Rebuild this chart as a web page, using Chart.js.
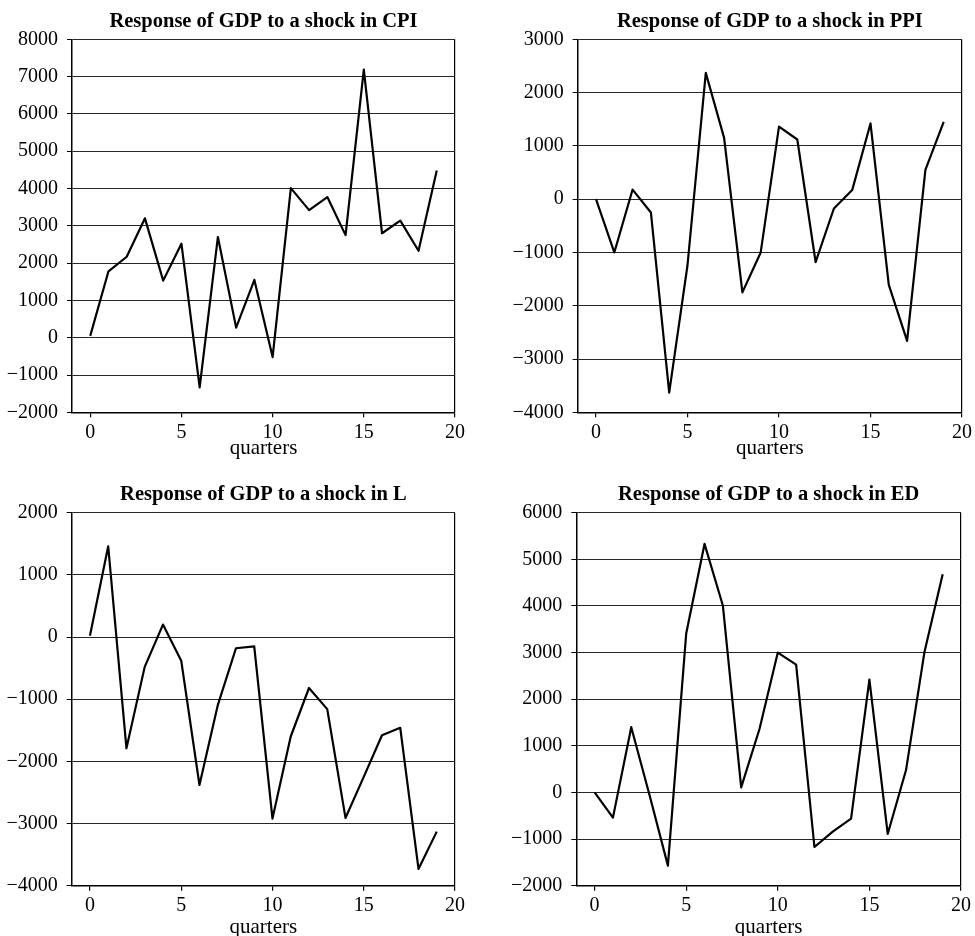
<!DOCTYPE html>
<html>
<head>
<meta charset="utf-8">
<script src="https://cdn.jsdelivr.net/npm/chart.js@4.4.0/dist/chart.umd.min.js"></script>
<style>
  body { margin: 0; background: #fff; overflow: hidden; }
  canvas { position: absolute; }
</style>
</head>
<body>
<canvas id="cpiChart" width="487" height="468" style="left:0;top:0"></canvas>
<canvas id="ppiChart" width="488" height="468" style="left:487px;top:0"></canvas>
<canvas id="lChart" width="487" height="468" style="left:0;top:468px"></canvas>
<canvas id="edChart" width="488" height="468" style="left:487px;top:468px"></canvas>
<script>
// impulse responses
const quarters = [0, 1, 2, 3, 4, 5, 6, 7, 8, 9, 10, 11, 12, 13, 14, 15, 16, 17, 18, 19];
const cpiResp = [50, 1780, 2170, 3200, 1530, 2520, -1330, 2700, 270, 1550, -520, 4010, 3420, 3770, 2750, 7190, 2800, 3140, 2330, 4480];
const ppiResp = [0, -1000, 180, -250, -3630, -1240, 2370, 1150, -1750, -1000, 1360, 1120, -1180, -175, 170, 1420, -1610, -2660, 550, 1450];
const lResp = [20, 1460, -1790, -480, 200, -380, -2380, -1100, -180, -150, -2920, -1600, -820, -1160, -2910, -2250, -1580, -1460, -3730, -3130];
const edResp = [0, -540, 1400, -60, -1570, 3410, 5330, 4010, 110, 1360, 3000, 2740, -1170, -840, -560, 2420, -890, 480, 3000, 4680];
const xTicks = [0, 5, 10, 15, 20];

const serif = '"Liberation Serif", "Times New Roman", serif';

// title centred over the plot area, not the whole canvas
const panelTitle = {
    id: 'panelTitle',
    afterDraw(chart, args, opts) {
        const ctx = chart.ctx;
        const area = chart.chartArea;
        ctx.save();
        ctx.font = 'bold 20.5px ' + serif;
        ctx.fillStyle = '#000';
        ctx.textAlign = 'center';
        ctx.textBaseline = 'middle';
        ctx.fillText(opts.text, (area.left + area.right) / 2, opts.y);
        ctx.restore();
    }
};

function makeChart(id, title, values, yMin, yMax, box) {
    const ctx = document.getElementById(id).getContext('2d');
    return new Chart(ctx, {
        type: 'line',
        data: {
            datasets: [{
                data: quarters.map((q, i) => ({ x: q, y: values[i] })),
                borderColor: '#000',
                borderWidth: 2.2,
                borderJoinStyle: 'round',
                pointRadius: 0,
                tension: 0
            }]
        },
        options: {
            responsive: false,
            animation: false,
            devicePixelRatio: 1,
            layout: {
                padding: { top: box.top, right: box.right, bottom: 0, left: 0 }
            },
            plugins: {
                legend: { display: false },
                tooltip: { enabled: false },
                panelTitle: { text: title, y: box.titleY }
            },
            scales: {
                x: {
                    type: 'linear',
                    min: -1,
                    max: 20,
                    afterBuildTicks: scale => { scale.ticks = xTicks.map(v => ({ value: v })); },
                    afterFit: scale => { scale.height = box.xHeight; },
                    border: { display: true, color: '#000', width: 1.5 },
                    grid: {
                        drawOnChartArea: true,
                        color: c => (c.tick && c.tick.value === 20) ? '#000' : 'rgba(0,0,0,0)',
                        tickColor: '#000',
                        tickLength: 5,
                        lineWidth: 1.2
                    },
                    ticks: {
                        color: '#000',
                        padding: 3,
                        maxRotation: 0,
                        font: { family: serif, size: 20 }
                    },
                    title: {
                        display: true,
                        text: 'quarters',
                        color: '#000',
                        font: { family: serif, size: 21, lineHeight: 1 },
                        padding: { top: 0, bottom: box.qPad }
                    }
                },
                y: {
                    min: yMin,
                    max: yMax,
                    afterFit: scale => { scale.width = box.left; },
                    border: { display: true, color: '#000', width: 1.5 },
                    grid: {
                        color: '#262626',
                        tickColor: '#000',
                        tickLength: 5,
                        lineWidth: 1
                    },
                    ticks: {
                        stepSize: 1000,
                        color: '#000',
                        padding: 9,
                        font: { family: serif, size: 20 },
                        callback: v => v < 0 ? '\u2212' + Math.abs(v) : String(v)
                    }
                }
            }
        },
        plugins: [panelTitle]
    });
}

makeChart('cpiChart', 'Response of GDP to a shock in CPI', cpiResp, -2000, 8000,
    { top: 39.3, right: 32, left: 72, xHeight: 55.7, titleY: 21.5, qPad: 9 });
makeChart('ppiChart', 'Response of GDP to a shock in PPI', ppiResp, -4000, 3000,
    { top: 39.3, right: 12.3, left: 90.7, xHeight: 55.7, titleY: 21.5, qPad: 9 });
makeChart('lChart', 'Response of GDP to a shock in L', lResp, -4000, 2000,
    { top: 44.7, right: 32, left: 71.7, xHeight: 50.3, titleY: 26.5, qPad: -1.5 });
makeChart('edChart', 'Response of GDP to a shock in ED', edResp, -2000, 6000,
    { top: 44.7, right: 14, left: 89.3, xHeight: 50.3, titleY: 26.5, qPad: -1.5 });
</script>
</body>
</html>
